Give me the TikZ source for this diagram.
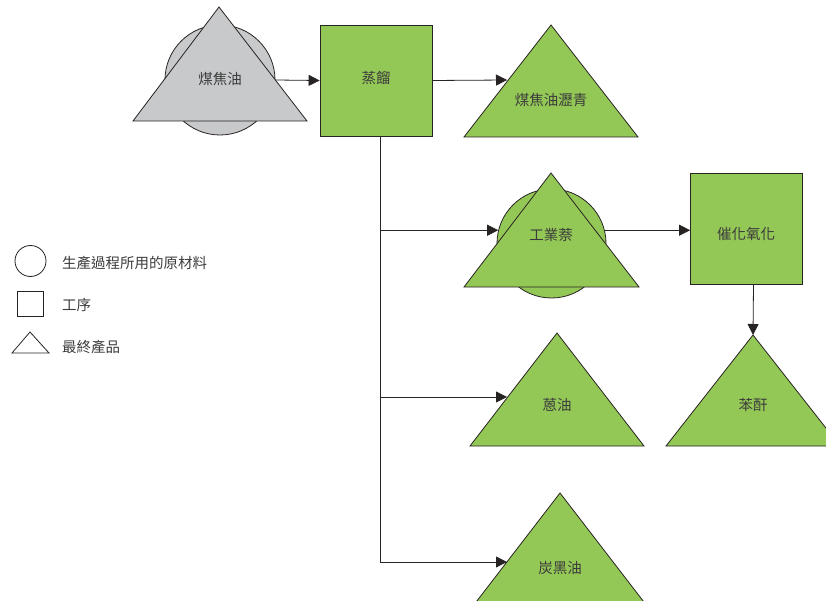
\documentclass[tikz,border=0pt]{standalone}
\usepackage{fontspec}
\newfontfamily\cjk{Noto Sans CJK TC}
\usetikzlibrary{arrows.meta,shapes.geometric}
\definecolor{grn}{RGB}{148,200,86}
\definecolor{gry}{RGB}{200,201,203}
\definecolor{edge}{RGB}{40,35,35}
\definecolor{txt}{RGB}{60,60,60}
\tikzset{
  lbl/.style={font=\cjk\fontsize{14.5}{16}\selectfont, text=txt, inner sep=0pt},
  shp/.style={draw=edge, line width=0.8pt},
  rawc/.style={shp, circle, inner sep=0pt, minimum size=#1},
  proc/.style={shp, fill=grn, rectangle, inner sep=0pt, minimum width=112pt, minimum height=111pt},
  con/.style={draw=edge, line width=0.8pt},
  arr/.style={con, -{Triangle[length=11pt,width=11pt]}},
}
\begin{document}
\begin{tikzpicture}[x=1pt,y=-1pt]
\useasboundingbox (0,0) rectangle (826,601);
\clip (0,0) rectangle (826,601);
\fill[white] (0,0) rectangle (826,601);

% coal tar (raw material + product)
\node[rawc=110pt, fill=gry] (c1) at (220,80) {};
\draw[shp, fill=gry] (133,121) -- (307,121) -- (219,7) -- cycle;
\node[lbl] (l1) at (220,79) {煤焦油};

% distillation
\node[proc] (box1) at (376,80.5) {};
\node[lbl] (l2) at (376,78) {蒸餾};

% pitch
\draw[shp, fill=grn] (464,137) -- (638,137) -- (551,25) -- cycle;
\node[lbl] (l3) at (551,100) {煤焦油瀝青};
\coordinate (t3in) at (507,80);

% naphthalene
\node[rawc=109pt, fill=grn] (c2) at (551.5,243.5) {};
\draw[shp, fill=grn] (464,287) -- (639,287) -- (551,173) -- cycle;
\node[lbl] (l4) at (551,235) {工業萘};

% catalytic oxidation
\node[proc] (box2) at (746.5,228.5) {};
\node[lbl] (l5) at (746,234) {催化氧化};

% anthracene oil
\draw[shp, fill=grn] (470,446) -- (644,446) -- (557,333) -- cycle;
\node[lbl] (l6) at (557,405) {蒽油};
\coordinate (t6in) at (507,397);

% phthalic anhydride
\draw[shp, fill=grn] (666,446) -- (840,446) -- (753,335) -- cycle;
\node[lbl] (l7) at (753,405) {苯酐};
\coordinate (t7in) at (753,335);

% carbon black oil
\draw[shp, fill=grn] (473,606) -- (647,606) -- (560,493) -- cycle;
\node[lbl] (l8) at (560,568) {炭黑油};
\coordinate (t8in) at (507,562);

% connectors
\draw[arr] (c1.east) -- (box1.west);
\draw[arr] (box1.east) -- (t3in);
\coordinate (trunk0) at ([xshift=4pt]box1.south);
\coordinate (trunk1) at (trunk0 |- t8in);
\draw[con] (trunk0) -- (trunk1);
\draw[arr] (trunk0 |- c2.166) -- (c2.166);
\draw[arr] (c2.14) -- (c2.14 -| box2.west);
\draw[arr] (trunk0 |- t6in) -- (t6in);
\draw[arr] (trunk1) -- (t8in);
\draw[arr] ([xshift=7pt]box2.south) -- (t7in);

% legend
\node[shp, circle, minimum size=31pt, inner sep=0pt] (k1) at (30.5,261) {};
\node[lbl, anchor=west] (k1t) at (62,263) {生產過程所用的原材料};
\node[shp, rectangle, minimum width=26pt, minimum height=25pt, inner sep=0pt] (k2) at (30,303.5) {};
\node[lbl, anchor=west] (k2t) at (62,305) {工序};
\draw[shp] (12,353) -- (49,353) -- (30,332) -- cycle;
\node[lbl, anchor=west] (k3t) at (62,347) {最終產品};
\end{tikzpicture}
\end{document}
